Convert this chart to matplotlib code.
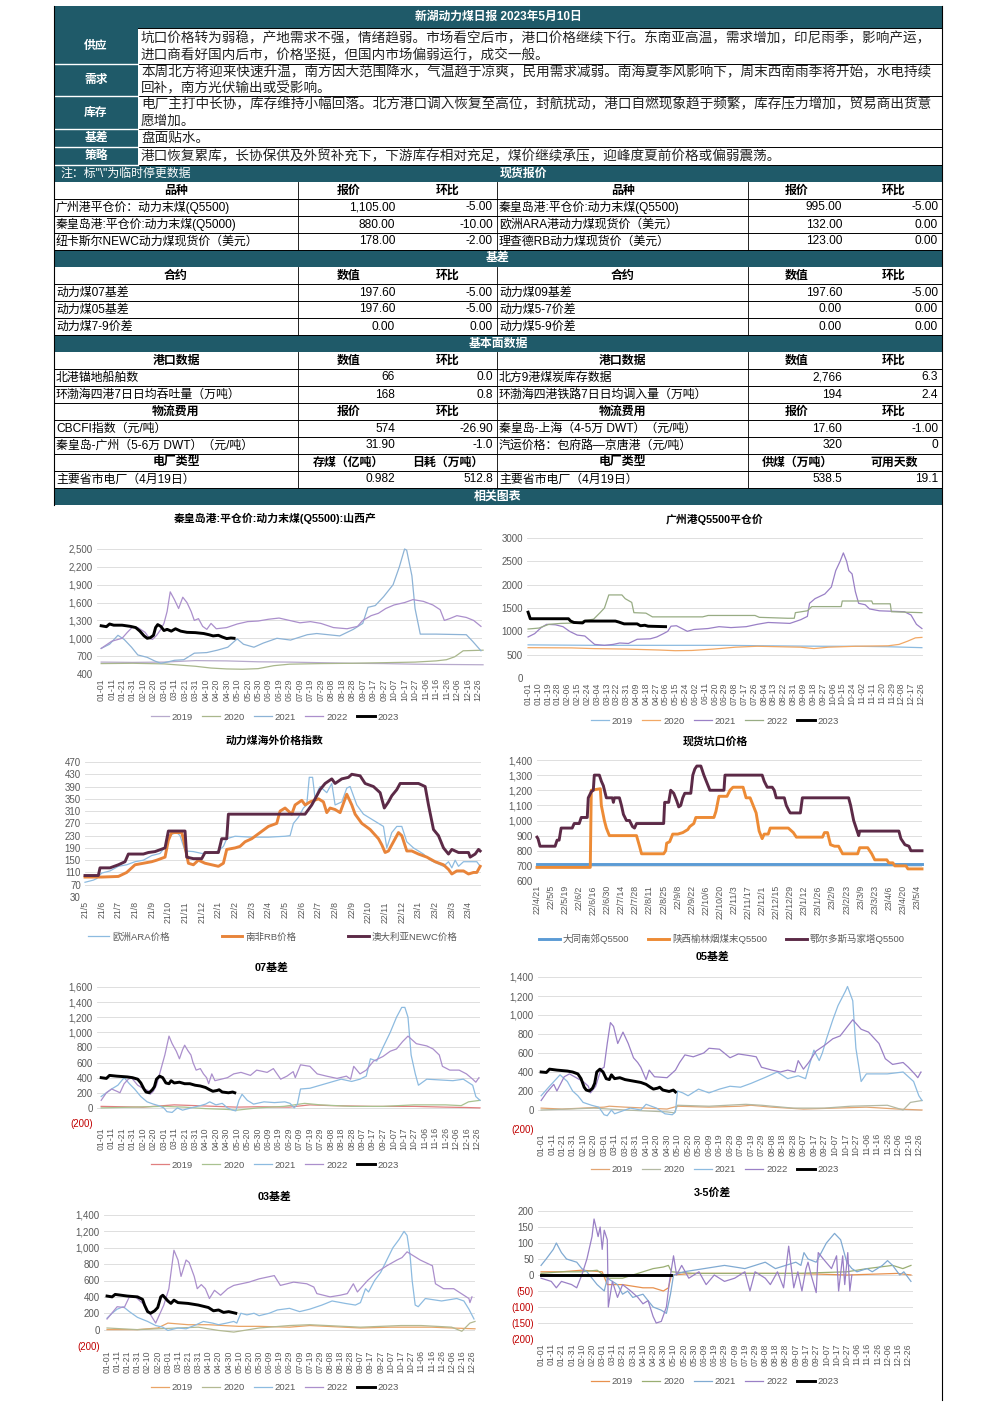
import numpy as np
import pandas as pd
import matplotlib.pyplot as plt
from matplotlib.patches import Rectangle

plt.rcParams['font.family'] = ['Liberation Sans', 'Noto Sans CJK SC', 'DejaVu Sans']
plt.rcParams['axes.unicode_minus'] = False

# ---------------- table text ----------------
TITLE = "新湖动力煤日报 2023年5月10日"
SUPPLY = ["坑口价格转为弱稳，产地需求不强，情绪趋弱。市场看空后市，港口价格继续下行。东南亚高温，需求增加，印尼雨季，影响产运，",
          "进口商看好国内后市，价格坚挺，但国内市场偏弱运行，成交一般。"]
DEMAND = ["本周北方将迎来快速升温，南方因大范围降水，气温趋于凉爽，民用需求减弱。南海夏季风影响下，周末西南雨季将开始，水电持续",
          "回补，南方光伏输出或受影响。"]
STOCK = ["电厂主打中长协，库存维持小幅回落。北方港口调入恢复至高位，封航扰动，港口自燃现象趋于频繁，库存压力增加，贸易商出货意",
         "愿增加。"]
BASIS_TXT = "盘面贴水。"
STRATEGY = "港口恢复累库，长协保供及外贸补充下，下游库存相对充足，煤价继续承压，迎峰度夏前价格或偏弱震荡。"

spot_head = ["品种", "报价", "环比", "品种", "报价", "环比"]
spot_rows = [["广州港平仓价：动力末煤(Q5500)", "1,105.00", "-5.00", "秦皇岛港:平仓价:动力末煤(Q5500)", "995.00", "-5.00"],
             ["秦皇岛港:平仓价:动力末煤(Q5000)", "880.00", "-10.00", "欧洲ARA港动力煤现货价（美元）", "132.00", "0.00"],
             ["纽卡斯尔NEWC动力煤现货价（美元）", "178.00", "-2.00", "理查德RB动力煤现货价（美元）", "123.00", "0.00"]]
basis_head = ["合约", "数值", "环比", "合约", "数值", "环比"]
basis_rows = [["动力煤07基差", "197.60", "-5.00", "动力煤09基差", "197.60", "-5.00"],
              ["动力煤05基差", "197.60", "-5.00", "动力煤5-7价差", "0.00", "0.00"],
              ["动力煤7-9价差", "0.00", "0.00", "动力煤5-9价差", "0.00", "0.00"]]
port_head = ["港口数据", "数值", "环比", "港口数据", "数值", "环比"]
port_rows = [["北港锚地船舶数", "66", "0.0", "北方9港煤炭库存数据", "2,766", "6.3"],
             ["环渤海四港7日日均吞吐量（万吨）", "168", "0.8", "环渤海四港铁路7日日均调入量（万吨）", "194", "2.4"]]
log_head = ["物流费用", "报价", "环比", "物流费用", "报价", "环比"]
log_rows = [["CBCFI指数（元/吨）", "574", "-26.90", "秦皇岛-上海（4-5万 DWT）（元/吨）", "17.60", "-1.00"],
            ["秦皇岛-广州（5-6万 DWT）（元/吨）", "31.90", "-1.0", "汽运价格：包府路—京唐港（元/吨）", "320", "0"]]
plant_head = ["电厂类型", "存煤（亿吨）", "日耗（万吨）", "电厂类型", "供煤（万吨）", "可用天数"]
plant_rows = [["主要省市电厂（4月19日）", "0.982", "512.8", "主要省市电厂（4月19日）", "538.5", "19.1"]]

# ---------------- chart 1: 秦皇岛港 (day of year) ----------------
qhd19_d = [0, 30, 60, 90, 120, 150, 180, 210, 240, 270, 300, 330, 365]
qhd19_v = [600, 595, 600, 625, 620, 605, 600, 590, 580, 575, 565, 560, 555]
qhd20_d = [0, 30, 60, 90, 105, 120, 135, 150, 165, 180, 210, 240, 270, 300, 320, 330, 338, 346, 365]
qhd20_v = [575, 580, 570, 530, 500, 485, 480, 490, 540, 565, 575, 580, 590, 600, 620, 640, 690, 790, 800]
qhd21_d = [0, 8, 16, 22, 29, 35, 44, 51, 57, 63, 70, 79, 89, 101, 111, 121, 130, 136, 146, 155, 168, 181, 197,
           206, 228, 241, 250, 255, 262, 270, 279, 285, 290, 292, 297, 300, 305, 320, 349, 355, 363]
qhd21_v = [830, 900, 1050, 980, 850, 720, 680, 620, 580, 600, 630, 640, 750, 760, 800, 850, 990, 900, 850, 920, 1000,
           970, 1060, 1080, 1040, 1150, 1250, 1520, 1550, 1700, 1900, 2200, 2500, 2480, 2050, 1500, 1070, 1070, 1060,
           950, 790]
qhd22_d = [0, 10, 20, 25, 30, 35, 42, 46, 49, 53, 57, 60, 63, 66, 70, 74, 78, 82, 86, 89, 93, 97, 101, 105, 110, 120,
           130, 140, 150, 160, 170, 180, 190, 200, 210, 222, 235, 245, 250, 258, 265, 272, 280, 290, 298, 308, 317,
           324, 328, 333, 340, 349, 356, 363]
qhd22_v = [830, 950, 1000, 1100, 1190, 1180, 1100, 1000, 980, 1050, 1150, 1250, 1450, 1780, 1650, 1500, 1690, 1600,
           1450, 1300, 1330, 1200, 1150, 1250, 1160, 1180, 1240, 1280, 1290, 1320, 1340, 1300, 1260, 1280, 1250, 1180,
           1160, 1200, 1300, 1380, 1420, 1500, 1560, 1600, 1650, 1620, 1560, 1480, 1300, 1330, 1380, 1350, 1300, 1200]
qhd23_d = [0, 5, 8, 12, 20, 28, 33, 37, 41, 44, 47, 50, 52, 54, 57, 60, 63, 67, 71, 76, 82, 90, 98, 103, 107, 112,
           116, 120, 124, 127]
qhd23_v = [1210, 1195, 1240, 1220, 1220, 1200, 1180, 1120, 1040, 1000, 1010, 1050, 1180, 1230, 1200, 1130, 1150, 1120,
           1160, 1120, 1100, 1095, 1080, 1060, 1040, 1050, 1020, 995, 1005, 1000]

# ---------------- chart 2: 广州港Q5500平仓价 ----------------
gz19_d = [0, 60, 120, 180, 220, 270, 300, 330, 361]
gz19_v = [710, 700, 700, 700, 690, 680, 680, 670, 650]
gz20_d = [0, 40, 60, 90, 120, 135, 150, 170, 190, 210, 230, 250, 262, 275, 300, 330, 340, 348, 355, 361]
gz20_v = [650, 645, 630, 620, 600, 585, 590, 620, 660, 680, 670, 660, 630, 660, 680, 690, 720, 790, 860, 870]
gz21_d = [0, 6, 12, 17, 25, 32, 38, 45, 52, 57, 61, 70, 78, 84, 92, 100, 112, 118, 124, 128, 131, 136, 141, 146,
          152, 165, 175, 186, 200, 210, 220, 230, 240, 250, 256, 258, 263, 272, 278, 282, 286, 289, 292, 294, 297,
          300, 303, 309, 313, 322, 345, 351, 356, 361]
gz21_v = [880, 950, 1080, 1150, 1140, 1100, 1000, 920, 900, 800, 720, 700, 720, 750, 740, 830, 840, 880, 950, 1000,
          1110, 1120, 1060, 1000, 1040, 1060, 1100, 1080, 1100, 1150, 1190, 1180, 1170, 1250, 1320, 1600, 1700, 1800,
          1950, 2300, 2500, 2680, 2500, 2300, 2230, 1850, 1600, 1570, 1480, 1440, 1420, 1350, 1150, 1060]
gz22_d = [0, 10, 19, 30, 45, 52, 60, 66, 70, 74, 86, 89, 95, 97, 108, 114, 160, 165, 208, 212, 238, 244, 245, 256,
          260, 287, 288, 315, 316, 332, 333, 361]
gz22_v = [1050, 1070, 1150, 1170, 1180, 1230, 1260, 1400, 1500, 1780, 1780, 1700, 1620, 1400, 1390, 1310, 1310, 1340,
          1340, 1300, 1280, 1280, 1400, 1440, 1530, 1530, 1650, 1650, 1590, 1590, 1420, 1400]
gz23_d = [0, 2, 37, 39, 42, 50, 52, 80, 83, 88, 100, 103, 107, 110, 126]
gz23_v = [1410, 1270, 1270, 1220, 1190, 1180, 1220, 1220, 1200, 1160, 1160, 1120, 1130, 1110, 1100]

# ---------------- chart 3: 海外价格指数 (months since 2021-05) ----------------
ara_m = [0, 0.5, 0.7, 1.0, 1.5, 2.0, 2.5, 3.0, 3.5, 4.0, 4.5, 4.9, 5.0, 5.5, 5.7, 6.0, 6.5, 7.0, 7.5, 8.0, 8.3, 8.5,
         9.0, 10, 11, 12, 12.3, 12.5, 12.8, 13.1, 13.3, 13.45, 13.65, 13.8, 14.0, 14.1, 14.5, 14.8, 15.0, 15.4, 15.7,
         15.9, 16.3, 16.7, 17.3, 17.9, 18.1, 18.4, 18.7, 19.0, 19.3, 19.7, 20.3, 20.7, 21.1, 21.5, 21.8, 22.0, 22.2,
         22.4, 22.7, 23.5, 23.7]
ara_v = [78, 85, 90, 108, 115, 130, 135, 145, 150, 165, 172, 200, 230, 240, 230, 180, 178, 172, 172, 180, 195, 220,
         228, 225, 225, 228, 230, 270, 290, 320, 330, 420, 420, 350, 380, 390, 370, 400, 330, 340, 385, 390, 330, 300,
         280, 260, 190, 240, 260, 260, 210, 190, 170, 150, 140, 130, 145, 125, 150, 130, 145, 145, 130]
rb_m = [0, 1, 2, 2.5, 3, 3.5, 4, 4.3, 4.8, 5.0, 5.2, 5.8, 5.9, 6.2, 6.5, 6.8, 7.2, 7.6, 8.0, 8.3, 8.5, 9, 9.3, 9.6,
        10, 10.5, 11, 11.5, 11.7, 12, 12.4, 12.6, 13, 13.2, 13.5, 14.0, 14.3, 14.5, 14.7, 15, 15.3, 15.6, 15.7, 16.0,
        16.2, 16.6, 17.1, 17.6, 17.8, 18.0, 18.2, 18.6, 18.8, 19.0, 19.3, 19.6, 20.0, 20.5, 21.0, 21.5, 21.8, 22.0,
        22.3, 22.7, 23.0, 23.3, 23.5, 23.7]
rb_v = [95, 95, 97, 110, 135, 140, 145, 150, 160, 215, 240, 240, 220, 140, 135, 150, 140, 135, 130, 140, 185, 190,
        195, 210, 220, 240, 260, 270, 310, 320, 300, 330, 345, 330, 340, 350, 340, 305, 320, 315, 305, 350, 365, 330,
        300, 270, 250, 220, 200, 175, 180, 220, 240, 230, 180, 180, 170, 160, 145, 135, 120, 105, 115, 115, 105, 110,
        110, 130]
newc_m = [0, 0.8, 0.9, 1.5, 2.0, 2.4, 2.6, 3.5, 3.8, 4.2, 4.8, 5.0, 6.0, 6.1, 6.5, 7.0, 7.2, 8.0, 8.2, 8.5, 8.6,
          13.2, 13.6, 13.9, 14.1, 14.4, 14.8, 15.0, 15.4, 15.8, 16.0, 16.5, 16.8, 17.3, 17.7, 17.95, 18.2, 18.4, 18.7,
          18.9, 20.0, 20.4, 20.6, 20.9, 21.2, 21.5, 21.8, 22.0, 22.4, 23.0, 23.1, 23.4, 23.6, 23.7]
newc_v = [100, 100, 125, 125, 135, 145, 170, 170, 175, 178, 190, 245, 245, 160, 155, 155, 175, 175, 220, 220, 300,
          300, 330, 360, 380, 400, 415, 400, 415, 420, 430, 425, 400, 390, 370, 320, 340, 360, 380, 400, 400, 390, 330,
          250, 230, 190, 170, 185, 175, 175, 160, 170, 185, 180]

# ---------------- chart 4: 现货坑口价格 (days since 2022-04-21) ----------------
dt_d = [0, 383]
dt_v = [710, 710]
sx_d = [0, 53, 54, 63, 64, 67, 69, 72, 99, 102, 104, 126, 128, 129, 132, 135, 140, 145, 150, 152, 156, 158, 176, 178,
        181, 189, 192, 195, 205, 208, 212, 215, 218, 221, 224, 226, 230, 232, 250, 255, 258, 284, 286, 289, 292, 296,
        300, 304, 319, 321, 329, 333, 336, 348, 350, 354, 356, 367, 369, 383]
sx_v = [690, 690, 1200, 1210, 1100, 1000, 950, 900, 900, 830, 780, 780, 800, 850, 860, 910, 910, 920, 940, 960, 980,
        1020, 1020, 1060, 1160, 1160, 1200, 1220, 1220, 1150, 1150, 1100, 1050, 930, 880, 910, 910, 950, 950, 920, 890,
        890, 920, 920, 840, 830, 830, 780, 780, 820, 820, 780, 740, 740, 720, 720, 700, 700, 680, 680]
eb_d = [0, 1, 3, 18, 20, 22, 24, 35, 37, 42, 44, 50, 51, 54, 56, 57, 62, 64, 66, 69, 75, 76, 77, 82, 84, 86, 89, 92,
        95, 97, 99, 126, 127, 131, 133, 136, 139, 141, 143, 145, 147, 153, 155, 157, 159, 163, 166, 169, 172, 186, 187,
        224, 226, 229, 234, 236, 238, 246, 248, 251, 252, 262, 264, 310, 312, 315, 319, 320, 321, 360, 362, 366, 370,
        372, 383]
eb_v = [890, 880, 830, 830, 870, 870, 950, 950, 980, 980, 1020, 1020, 1150, 1190, 1200, 1300, 1300, 1260, 1230, 1150,
        1150, 1120, 1150, 1150, 1100, 1040, 1000, 1000, 960, 950, 980, 980, 1120, 1120, 1200, 1180, 1130, 1090, 1100,
        1150, 1180, 1180, 1300, 1340, 1360, 1360, 1300, 1250, 1200, 1200, 1300, 1300, 1260, 1220, 1220, 1200, 1150,
        1150, 1100, 1060, 1050, 1050, 1150, 1150, 1100, 1000, 920, 900, 930, 930, 880, 840, 830, 800, 800]

# ---------------- chart 5: 07基差 ----------------
b07_19_d = [0, 20, 40, 60, 70, 90, 110, 130, 150, 180, 200, 220, 260, 300, 330, 350, 363]
b07_19_v = [20, 15, 10, 30, 40, 30, 20, 10, 15, 10, 40, 30, 20, 20, 10, 5, 0]
b07_20_d = [0, 30, 60, 80, 100, 120, 130, 150, 175, 195, 210, 240, 270, 300, 330, 345, 352, 363]
b07_20_v = [0, 10, 20, 10, -10, -20, -30, 0, 20, 60, 40, 20, 20, 40, 40, 30, 80, 100]
b07_21_d = [0, 5, 10, 16, 22, 27, 32, 38, 44, 50, 55, 60, 63, 68, 73, 78, 86, 95, 100, 104, 110, 116, 121, 126, 129,
            132, 135, 140, 146, 156, 166, 176, 181, 185, 188, 191, 200, 210, 220, 230, 240, 248, 254, 258, 264, 270,
            277, 283, 288, 291, 294, 297, 301, 304, 312, 337, 347, 356, 359, 363]
b07_21_v = [150, 200, 250, 300, 400, 320, 250, 150, 80, 50, 30, 0, -50, -60, 0, -30, 0, 30, 50, 80, 40, 60, 0, -30,
            -40, 100, 180, 100, 50, 80, 70, 80, 60, 0, 50, 250, 260, 300, 340, 380, 350, 380, 420, 650, 620, 800, 1000,
            1200, 1330, 1330, 1200, 700, 450, 300, 380, 360, 380, 300, 150, 100]
b07_22_d = [0, 5, 10, 15, 18, 22, 26, 29, 35, 41, 45, 47, 50, 53, 57, 61, 65, 68, 72, 75, 78, 80, 83, 86, 88, 91, 95,
            98, 101, 103, 106, 109, 115, 121, 127, 134, 143, 149, 159, 165, 172, 178, 184, 186, 191, 200, 207, 216,
            226, 235, 239, 242, 248, 254, 261, 270, 277, 283, 289, 294, 302, 312, 318, 324, 327, 334, 343, 350, 356,
            359, 362]
b07_22_v = [100, 200, 250, 220, 200, 320, 380, 400, 300, 250, 230, 180, 220, 300, 500, 700, 950, 850, 750, 650, 770,
            830, 760, 700, 600, 500, 520, 450, 400, 320, 450, 360, 380, 400, 450, 470, 430, 500, 470, 520, 380, 420,
            480, 400, 570, 550, 450, 420, 390, 420, 380, 550, 450, 500, 620, 680, 750, 780, 880, 950, 850, 820, 780,
            700, 550, 500, 500, 450, 380, 340, 400]
b07_23_d = [0, 5, 8, 15, 25, 30, 35, 38, 41, 43, 46, 49, 51, 53, 56, 59, 62, 65, 67, 70, 75, 80, 85, 90, 95, 100,
            104, 107, 111, 113, 116, 122, 126, 128]
b07_23_v = [400, 390, 430, 420, 410, 400, 380, 330, 250, 210, 200, 240, 280, 380, 420, 400, 330, 320, 360, 330, 340,
            320, 320, 300, 290, 270, 240, 220, 230, 240, 210, 200, 210, 200]

# ---------------- chart 6: 05基差 ----------------
b05_19_d = [0, 20, 40, 60, 65, 80, 100, 120, 130, 160, 190, 200, 220, 250, 280, 310, 340, 363]
b05_19_v = [20, 10, 20, 30, 40, 30, 20, 10, 40, 30, 40, 50, 30, 10, 20, 30, 10, 0]
b05_20_d = [0, 25, 50, 80, 100, 120, 127, 130, 160, 195, 210, 240, 270, 295, 330, 345, 352, 363]
b05_20_v = [0, 10, 20, 0, -10, -20, -30, 50, 40, 60, 50, 20, 20, 40, 50, 0, 80, 100]
b05_21_d = [0, 8, 18, 25, 30, 35, 40, 48, 55, 60, 63, 67, 70, 75, 85, 95, 100, 105, 110, 118, 125, 128, 130, 135,
            140, 150, 160, 170, 180, 190, 200, 215, 225, 235, 245, 252, 255, 260, 265, 268, 272, 278, 283, 290, 292,
            297, 300, 305, 310, 330, 345, 355, 360, 363]
b05_21_v = [150, 250, 370, 300, 200, 150, 80, 50, 30, -50, -60, 0, -40, -20, 20, 0, 60, 40, 20, -40, -50, -20, 200,
            180, 150, 220, 180, 220, 250, 240, 280, 350, 400, 330, 360, 330, 450, 630, 520, 600, 750, 950, 1100, 1250,
            1300, 1150, 650, 300, 380, 380, 400, 300, 150, 100]
b05_22_d = [0, 5, 12, 15, 22, 27, 35, 40, 45, 47, 52, 57, 60, 63, 66, 69, 73, 78, 83, 88, 92, 95, 100, 103, 108, 120,
            128, 132, 137, 145, 155, 160, 170, 180, 188, 200, 205, 210, 220, 228, 235, 242, 245, 250, 255, 262, 270,
            278, 285, 292, 297, 305, 312, 322, 328, 335, 345, 350, 356, 359, 362]
b05_22_v = [100, 180, 270, 200, 350, 380, 330, 300, 250, 180, 250, 430, 450, 700, 920, 880, 700, 820, 700, 550, 500,
            450, 320, 420, 350, 340, 420, 500, 580, 560, 600, 650, 640, 550, 590, 570, 560, 450, 420, 400, 420, 400,
            520, 430, 500, 620, 680, 750, 780, 880, 950, 850, 820, 700, 540, 480, 500, 450, 380, 340, 400]
b05_23_d = [0, 5, 8, 15, 25, 30, 35, 38, 41, 43, 46, 49, 51, 53, 56, 59, 62, 65, 67, 70, 75, 80, 85, 90, 95, 100,
            104, 107, 111, 113, 116, 122, 126, 128]
b05_23_v = [400, 395, 430, 420, 410, 400, 380, 330, 240, 210, 200, 230, 280, 400, 430, 400, 330, 320, 370, 330, 340,
            320, 310, 300, 290, 270, 240, 220, 230, 240, 210, 195, 210, 190]

# ---------------- chart 7: 03基差 ----------------
b03_19_d = [0, 30, 50, 60, 80, 100, 130, 150, 180, 200, 250, 280, 320, 340, 363]
b03_19_v = [0, 0, 20, 80, 60, 60, 40, 40, 30, 50, 20, 30, 30, 20, 10]
b03_20_d = [0, 30, 50, 70, 90, 110, 125, 150, 180, 200, 250, 290, 310, 340, 350, 358, 363]
b03_20_v = [20, 0, 10, 20, 30, -10, -30, 20, 50, 60, 30, 50, 50, 30, -20, 80, 100]
b03_21_d = [0, 5, 10, 16, 22, 30, 40, 48, 55, 60, 70, 78, 88, 95, 104, 110, 118, 125, 128, 132, 138, 145, 150, 160,
            168, 180, 190, 200, 212, 222, 235, 245, 250, 255, 258, 264, 270, 276, 282, 288, 293, 296, 299, 301, 304,
            307, 314, 330, 345, 352, 357, 362]
b03_21_v = [140, 200, 250, 280, 220, 150, 100, 50, 30, -10, 20, 10, 60, 100, 80, 60, 80, 100, 80, 200, 180, 200, 170,
            200, 240, 260, 220, 250, 300, 350, 320, 300, 330, 500, 460, 600, 700, 850, 1000, 1100, 1200, 1150, 900, 600,
            300, 280, 380, 350, 380, 350, 250, 130]
b03_22_d = [0, 10, 17, 22, 28, 37, 47, 48, 56, 61, 66, 70, 73, 78, 81, 86, 89, 93, 97, 101, 106, 112, 119, 125, 140,
            150, 165, 171, 184, 197, 204, 207, 220, 230, 237, 243, 247, 257, 266, 276, 286, 291, 296, 309, 321, 324,
            332, 342, 352, 357, 358, 360]
b03_22_v = [130, 280, 270, 400, 400, 300, 100, 80, 300, 500, 970, 850, 650, 850, 820, 650, 500, 550, 500, 380, 480,
            420, 500, 540, 580, 620, 660, 540, 580, 560, 520, 440, 400, 420, 440, 560, 460, 600, 700, 780, 850, 880,
            950, 850, 780, 560, 500, 500, 420, 380, 330, 400]
b03_23_d = [0, 5, 8, 20, 30, 35, 37, 40, 43, 47, 50, 53, 55, 60, 63, 66, 70, 80, 90, 100, 105, 110, 115, 120, 127]
b03_23_v = [410, 400, 430, 410, 400, 370, 300, 220, 200, 230, 270, 400, 420, 350, 320, 360, 330, 320, 300, 270, 230,
            240, 210, 220, 200]

# ---------------- chart 8: 3-5价差 ----------------
s35_19_d = [0, 20, 40, 60, 65, 80, 100, 110, 120, 125, 128, 150, 250, 300, 350, 363]
s35_19_v = [10, 10, 15, 10, -30, -30, -40, -40, -50, -40, 0, 5, 5, 0, 5, 0]
s35_20_d = [0, 20, 40, 55, 65, 80, 90, 100, 110, 120, 125, 128, 150, 250, 300, 320, 345, 355, 363]
s35_20_v = [5, 10, 10, 15, -10, -10, 0, 10, 20, 25, 30, 10, 5, 5, 10, 20, 30, 20, 30]
s35_21_d = [0, 5, 12, 15, 20, 25, 35, 40, 45, 50, 55, 62, 65, 70, 75, 80, 85, 90, 100, 105, 110, 118, 123, 127, 130,
            140, 150, 160, 170, 180, 190, 200, 210, 220, 230, 240, 250, 255, 258, 262, 270, 280, 288, 294, 300, 305,
            310, 320, 325, 335, 340, 345, 352, 356, 363]
s35_21_v = [30, 50, 80, 100, 70, 50, 40, 20, 10, -10, -30, -50, -10, -20, -30, -60, -50, -70, -60, -80, -100, -110,
            -120, -60, 0, 10, 15, 20, 25, 30, 25, 20, 30, 40, 20, 30, 40, 30, 70, 50, 40, 100, 130, 110, 40, 20, 10,
            20, 10, 30, 45, 30, 0, 10, -20]
s35_22_d = [0, 5, 10, 15, 20, 30, 35, 40, 45, 50, 52, 56, 58, 60, 62, 65, 66, 70, 75, 80, 88, 95, 100, 105, 110, 113,
            118, 123, 126, 130, 133, 138, 145, 155, 162, 170, 180, 190, 200, 205, 210, 220, 225, 232, 238, 243, 248,
            252, 256, 260, 262, 265, 270, 272, 277, 285, 290, 292, 296, 298, 301, 303, 305]
s35_22_v = [-10, -15, -20, -40, -20, -30, -40, 0, 50, 120, 175, 120, 150, 80, 140, 110, -100, -20, -70, -30, -50, -70,
            -90, -80, -130, -150, -145, -100, -20, 60, 0, 30, -10, 10, -30, 0, -20, -10, 10, -50, 10, -10, -30, 10, -40,
            90, -40, 10, -50, 20, 40, 0, -55, 70, 50, 20, 60, -50, 60, -30, 70, -50, 0]
s35_23_d = [0, 128]
s35_23_v = [0, 0]

# ---------------- figure ----------------
W, H = 992, 1403
fig = plt.figure(figsize=(W / 100, H / 100), dpi=100)
fig.patch.set_facecolor("white")
TEAL = "#1f5a69"
GRID = "#d9d9d9"
TICKC = "#595959"
RED = "#c00000"


def px_axes(l, t, r, b):
    return fig.add_axes([l / W, 1 - b / H, (r - l) / W, (b - t) / H])


bg = fig.add_axes([0, 0, 1, 1])
bg.set_xlim(0, W)
bg.set_ylim(H, 0)
bg.axis("off")

L, R = 54, 942
CX = [54, 298, 399, 497, 748, 846, 942]
FS = 8.6


def teal_band(y0, y1):
    bg.add_patch(Rectangle((L, y0), R - L, y1 - y0, fc=TEAL, ec="none", zorder=1))


def hline(y, x0=L, x1=R, c="black", lw=0.7):
    bg.plot([x0, x1], [y, y], color=c, lw=lw, zorder=3)


# title
teal_band(6, 28)
bg.text((L + R) / 2, 17, TITLE, color="white", fontsize=8.5, fontweight="bold", ha="center", va="center")

# commentary block
bg.add_patch(Rectangle((L, 28), 138 - L, 165 - 28, fc=TEAL, ec="none", zorder=1))
blocks = [(28, 64, "供应", SUPPLY), (64, 96, "需求", DEMAND), (96, 129, "库存", STOCK),
          (129, 147, "基差", [BASIS_TXT]), (147, 165, "策略", [STRATEGY])]
for y0, y1, lab, lines in blocks:
    bg.text(96, (y0 + y1) / 2, lab, color="white", fontsize=8.5, fontweight="bold", ha="center", va="center")
    n = len(lines)
    for k, ln in enumerate(lines):
        yy = (y0 + y1) / 2 + (k - (n - 1) / 2) * 16
        bg.text(141, yy, ln, fontsize=9.8, ha="left", va="center", color="#222222")
    hline(y1, 138, R)
    hline(y1, L, 138, c="white", lw=1.0)
hline(28, 138, R)

# data tables
y = 165
teal_band(y, y + 17)
bg.text(60, y + 8.5, '注：标"\\"为临时停更数据', color="white", fontsize=FS, ha="left", va="center")
bg.text(523, y + 8.5, "现货报价", color="white", fontsize=FS, fontweight="bold", ha="center", va="center")
y += 17


def draw_rows(y, head, rows):
    y_start = y
    for r_i, row in enumerate([head] + rows):
        is_head = r_i == 0
        for c_i, txt in enumerate(row):
            if is_head:
                bg.text((CX[c_i] + CX[c_i + 1]) / 2, y + 8.5, txt, fontsize=FS, fontweight="bold",
                        ha="center", va="center")
            elif c_i in (0, 3):
                bg.text(CX[c_i] + 2, y + 8.5, txt, fontsize=FS, ha="left", va="center")
            else:
                bg.text(CX[c_i + 1] - 4, y + 8.5, txt, fontsize=FS, ha="right", va="center")
        y += 17
        hline(y)
    for xv in (298, 497, 748):
        bg.plot([xv, xv], [y_start, y], color="black", lw=0.6, zorder=3)
    return y


y = draw_rows(y, spot_head, spot_rows)
teal_band(y, y + 17)
bg.text(498, y + 8.5, "基差", color="white", fontsize=FS, fontweight="bold", ha="center", va="center")
y += 17
y = draw_rows(y, basis_head, basis_rows)
teal_band(y, y + 17)
bg.text(498, y + 8.5, "基本面数据", color="white", fontsize=FS, fontweight="bold", ha="center", va="center")
y += 17
y = draw_rows(y, port_head, port_rows)
y = draw_rows(y, log_head, log_rows)
y = draw_rows(y, plant_head, plant_rows)
teal_band(y, y + 17)
bg.text(498, y + 8.5, "相关图表", color="white", fontsize=FS, fontweight="bold", ha="center", va="center")
y += 17
# outer borders
bg.plot([L, L], [6, y], color="black", lw=0.8, zorder=4)
bg.plot([R, R], [6, 1400], color="black", lw=0.8, zorder=4)


# ---------------- chart helper ----------------
def num_label(v):
    if v < 0:
        return f"({abs(v):,.0f})"
    return f"{v:,.0f}"


def draw_chart(box, series, xlim, yticks, ylabels, xticks, xlabels, title, title_xy, leg_xy,
               leg_cols=5, colspace=1.0, handlelen=1.9):
    ax = px_axes(*box)
    for xs, ys, col, lw, lab in series:
        ax.plot(xs, ys, color=col, lw=lw, label=lab, solid_joinstyle="round")
    ax.set_xlim(*xlim)
    ax.set_ylim(yticks[0], yticks[-1])
    ax.set_yticks(yticks)
    ax.set_yticklabels(ylabels, fontsize=7, color=TICKC)
    for t, s in zip(ax.get_yticklabels(), ylabels):
        if s.startswith("("):
            t.set_color(RED)
    ax.set_xticks(xticks)
    ax.set_xticklabels(xlabels, rotation=90, fontsize=6.3, color=TICKC)
    ax.grid(axis="y", color=GRID, lw=0.6)
    ax.set_axisbelow(True)
    for s in ax.spines.values():
        s.set_visible(False)
    ax.tick_params(length=0, pad=3)
    for ln in ax.get_lines():
        ln.set_clip_on(False)
    bg.text(title_xy[0], title_xy[1], title, fontsize=7.8, fontweight="bold", ha="center", va="center")
    ax.legend(loc="center", bbox_to_anchor=(leg_xy[0] / W, 1 - leg_xy[1] / H), bbox_transform=fig.transFigure,
              ncol=leg_cols, frameon=False, fontsize=6.8, handlelength=handlelen, columnspacing=colspace,
              handletextpad=0.3, labelcolor=TICKC)
    return ax


# ticks for the seasonal charts (leap-year calendar)
d10 = pd.date_range("2020-01-01", "2020-12-31", freq="10D")
d10_pos = [(d - pd.Timestamp("2020-01-01")).days for d in d10]
d10_lab = [d.strftime("%m-%d") for d in d10]
d9 = pd.date_range("2020-01-01", "2020-12-31", freq="9D")
d9_pos = [(d - pd.Timestamp("2020-01-01")).days for d in d9]
d9_lab = [d.strftime("%m-%d") for d in d9]
m_rng = pd.date_range("2021-05-01", periods=24, freq="MS")
m_pos = list(range(24))
m_lab = [f"{d.year % 100}/{d.month}" for d in m_rng]
w_rng = pd.date_range("2022-04-21", periods=28, freq="14D")
w_pos = [(d - pd.Timestamp("2022-04-21")).days for d in w_rng]
w_lab = [f"{d.year % 100}/{d.month}/{d.day}" for d in w_rng]

THIN = 0.9
BOLD = 2.1

# chart 1
yt = [400, 700, 1000, 1300, 1600, 1900, 2200, 2500]
draw_chart((97, 549, 482, 674),
           [(qhd19_d, qhd19_v, "#b7a9cc", THIN, "2019"), (qhd20_d, qhd20_v, "#a9b78c", THIN, "2020"),
            (qhd21_d, qhd21_v, "#8db3d6", THIN, "2021"), (qhd22_d, qhd22_v, "#ab8fcc", THIN, "2022"),
            (qhd23_d, qhd23_v, "black", BOLD, "2023")],
           (-4, 364), yt, [num_label(v) for v in yt], d10_pos, d10_lab,
           "秦皇岛港:平仓价:动力末煤(Q5500):山西产", (275, 518), (275, 717))

# chart 2
yt = [0, 500, 1000, 1500, 2000, 2500, 3000]
draw_chart((527, 538, 923, 678),
           [(gz19_d, gz19_v, "#8dbbe0", THIN, "2019"), (gz20_d, gz20_v, "#f2a865", THIN, "2020"),
            (gz21_d, gz21_v, "#9a80c6", THIN, "2021"), (gz22_d, gz22_v, "#98ac84", THIN, "2022"),
            (gz23_d, gz23_v, "black", BOLD, "2023")],
           (-1, 362), yt, [str(v) for v in yt], d9_pos, d9_lab,
           "广州港Q5500平仓价", (715, 519), (715, 721))

# chart 3
yt = list(range(30, 471, 40))
draw_chart((85, 762, 481, 897),
           [(ara_m, ara_v, "#8dbbe0", THIN, "欧洲ARA价格"), (rb_m, rb_v, "#e8843a", BOLD, "南非RB价格"),
            (newc_m, newc_v, "#5c2a47", BOLD, "澳大利亚NEWC价格")],
           (0, 23.75), yt, [str(v) for v in yt], m_pos, m_lab,
           "动力煤海外价格指数", (274, 741), (273, 937), leg_cols=3, colspace=5.5, handlelen=2.2)

# chart 4
yt = list(range(600, 1401, 100))
draw_chart((537, 760, 922, 881),
           [(dt_d, dt_v, "#5b9bd5", BOLD, "大同南郊Q5500"), (sx_d, sx_v, "#ed8b35", BOLD, "陕西榆林烟煤末Q5500"),
            (eb_d, eb_v, "#5c2a47", BOLD, "鄂尔多斯马家塔Q5500")],
           (0, 383), yt, [num_label(v) for v in yt], w_pos, w_lab,
           "现货坑口价格", (715, 741), (722, 939), leg_cols=3, colspace=2.0, handlelen=2.2)

# chart 5
yt = list(range(-200, 1601, 200))
draw_chart((97, 987, 480, 1123),
           [(b07_19_d, b07_19_v, "#e07f7f", THIN, "2019"), (b07_20_d, b07_20_v, "#a9c290", THIN, "2020"),
            (b07_21_d, b07_21_v, "#8dbbe0", THIN, "2021"), (b07_22_d, b07_22_v, "#ab8fcc", THIN, "2022"),
            (b07_23_d, b07_23_v, "black", BOLD, "2023")],
           (-4, 363), yt, [num_label(v) for v in yt], d10_pos, d10_lab,
           "07基差", (272, 968), (275, 1165))

# chart 6
yt = list(range(-200, 1401, 200))
draw_chart((538, 977, 922, 1129),
           [(b05_19_d, b05_19_v, "#e3a572", THIN, "2019"), (b05_20_d, b05_20_v, "#b3b9a3", THIN, "2020"),
            (b05_21_d, b05_21_v, "#8dbbe0", THIN, "2021"), (b05_22_d, b05_22_v, "#9a80c6", THIN, "2022"),
            (b05_23_d, b05_23_v, "black", BOLD, "2023")],
           (-3, 363), yt, [num_label(v) for v in yt], d10_pos, d10_lab,
           "05基差", (712, 957), (715, 1170))

# chart 7
yt = list(range(-200, 1401, 200))
draw_chart((104, 1215, 475, 1346),
           [(b03_19_d, b03_19_v, "#e9a466", THIN, "2019"), (b03_20_d, b03_20_v, "#b3b992", THIN, "2020"),
            (b03_21_d, b03_21_v, "#8dbbe0", THIN, "2021"), (b03_22_d, b03_22_v, "#ab8fcc", THIN, "2022"),
            (b03_23_d, b03_23_v, "black", BOLD, "2023")],
           (-3, 363), yt, [num_label(v) for v in yt], d10_pos, d10_lab,
           "03基差", (274, 1197), (275, 1388))

# chart 8
yt = list(range(-200, 201, 50))
draw_chart((538, 1211, 913, 1339),
           [(s35_19_d, s35_19_v, "#e8914e", THIN, "2019"), (s35_20_d, s35_20_v, "#9aae72", THIN, "2020"),
            (s35_21_d, s35_21_v, "#80aad2", THIN, "2021"), (s35_22_d, s35_22_v, "#9a80c6", THIN, "2022"),
            (s35_23_d, s35_23_v, "black", BOLD, "2023")],
           (-3, 365), yt, [num_label(v) for v in yt], d10_pos, d10_lab,
           "3-5价差", (712, 1193), (715, 1382))

fig.savefig("out.png", dpi=100)
